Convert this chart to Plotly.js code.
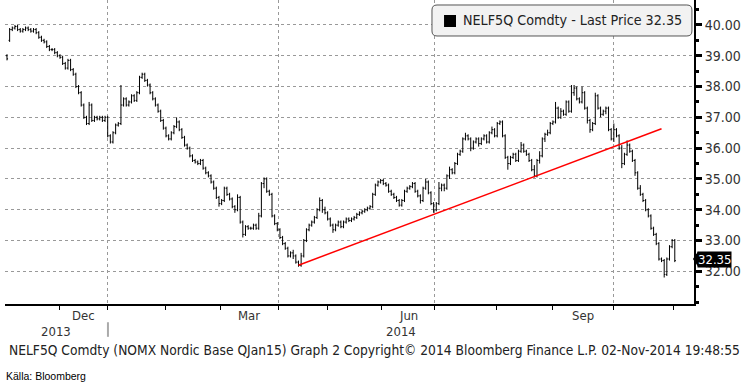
<!DOCTYPE html>
<html>
<head>
<meta charset="utf-8">
<script src="https://cdn.plot.ly/plotly-3.0.1.min.js"></script>
<style>html,body{margin:0;padding:0;background:#fff;}#chart{width:744px;height:384px;}</style>
</head>
<body>
<div id="chart"></div>
<script>
// Daily OHLC of NELF5Q Comdty (trading-day index 0 = early Nov 2013, last = 31 Oct 2014)
const openP = [
39.0,39.5,39.85,39.9,39.95,39.85,39.8,39.85,39.9,39.85,
39.8,39.85,39.75,39.6,39.5,39.45,39.3,39.2,39.2,39.1,
39.0,38.95,38.75,38.6,38.85,38.55,38.4,38.0,37.8,37.4,
37.0,36.8,37.4,36.9,37.0,36.95,37.0,36.9,37.0,36.4,
36.2,36.5,36.75,36.8,37.4,37.6,37.4,37.5,37.7,37.55,
37.8,38.3,38.4,38.2,38.05,37.8,37.6,37.4,37.2,36.9,
36.65,36.4,36.3,36.5,36.7,36.85,36.6,36.35,36.1,36.0,
35.75,35.6,35.55,35.5,35.6,35.35,35.2,35.1,34.9,34.7,
34.4,34.2,34.3,34.7,34.5,34.35,34.1,34.0,34.4,33.6,
33.2,33.45,33.4,33.4,33.5,33.4,33.8,34.85,35.0,34.6,
34.5,33.8,33.55,33.35,33.1,32.9,32.75,32.5,32.6,32.5,
32.3,32.2,32.5,33.0,33.35,33.5,33.6,33.75,34.0,34.3,
34.0,33.9,33.7,33.5,33.35,33.5,33.6,33.45,33.6,33.7,
33.65,33.7,33.75,33.85,33.9,33.95,34.0,34.05,34.1,34.5,
34.8,34.9,34.95,34.85,34.8,34.6,34.5,34.4,34.3,34.15,
34.3,34.6,34.7,34.75,34.85,34.6,34.45,34.3,34.7,34.9,
34.55,34.2,34.0,34.2,34.7,34.8,34.7,35.1,35.3,35.2,
35.5,35.8,35.9,36.3,36.4,36.3,36.0,36.2,36.3,36.15,
36.3,36.4,36.2,36.5,36.6,36.4,36.8,36.85,36.4,35.7,
35.5,35.7,35.8,35.6,35.9,36.1,35.9,35.8,35.6,35.3,
35.1,35.6,35.75,36.3,36.45,36.5,36.8,36.85,37.3,37.0,
37.2,37.1,37.5,37.2,37.8,37.95,37.6,37.5,37.8,37.3,
36.9,36.6,36.8,37.7,37.3,37.1,37.2,37.3,36.6,36.3,
36.6,36.4,36.0,35.5,35.8,36.1,35.9,35.6,35.2,34.7,
34.5,34.3,34.0,33.8,33.4,33.2,32.9,32.4,32.35,31.9,
32.4,32.8,33.0
];
const highP = [
39.05,39.9,39.95,40.0,40.0,39.9,39.9,39.95,39.95,39.9,
39.9,39.9,39.8,39.65,39.55,39.5,39.35,39.25,39.25,39.15,
39.05,39.0,38.8,38.9,38.9,38.6,38.45,38.05,37.85,37.45,
37.05,37.5,37.45,37.05,37.05,37.05,37.05,37.05,37.05,36.45,
36.55,36.8,36.85,38.05,37.65,37.65,37.55,37.75,37.75,37.85,
38.35,38.45,38.45,38.25,38.1,37.85,37.65,37.45,37.25,36.95,
36.7,36.45,36.55,36.75,37.0,36.9,36.65,36.4,36.15,36.05,
35.8,35.65,35.6,35.65,35.65,35.4,35.25,35.15,34.95,34.75,
34.45,34.35,34.75,34.75,34.55,34.4,34.15,34.5,34.45,33.65,
33.5,33.5,33.45,33.55,33.55,33.9,34.9,35.05,35.05,34.65,
34.55,33.85,33.6,33.4,33.15,32.95,32.8,32.65,32.7,32.55,
32.35,32.6,33.05,33.4,33.55,33.65,33.8,34.05,34.4,34.35,
34.1,33.95,33.75,33.55,33.55,33.65,33.65,33.65,33.75,33.75,
33.75,33.8,33.9,33.95,34.0,34.05,34.1,34.15,34.55,34.85,
34.95,35.0,35.0,34.9,34.85,34.65,34.55,34.45,34.35,34.35,
34.65,34.75,34.8,34.9,34.9,34.65,34.5,34.75,35.0,34.95,
34.6,34.25,34.25,34.9,34.85,34.85,35.15,35.4,35.35,35.55,
35.85,35.95,36.35,36.5,36.45,36.35,36.25,36.35,36.35,36.35,
36.45,36.45,36.55,36.7,36.65,36.85,36.9,36.9,36.45,35.75,
35.75,35.85,35.85,35.95,36.2,36.15,35.95,35.85,35.65,35.45,
35.65,35.9,36.35,36.5,36.6,36.85,36.9,37.5,37.35,37.3,
37.25,37.55,37.55,38.05,38.05,38.0,37.65,38.0,37.85,37.35,
36.95,36.85,37.8,37.75,37.35,37.25,37.35,37.35,36.65,36.8,
36.65,36.45,36.1,35.85,36.25,36.15,35.95,35.65,35.25,34.8,
34.55,34.35,34.05,33.85,33.45,33.25,32.95,32.45,32.4,32.45,
32.85,33.05,33.05
];
const lowP = [
38.85,39.45,39.8,39.85,39.8,39.75,39.75,39.8,39.8,39.75,
39.75,39.7,39.55,39.45,39.4,39.25,39.15,39.15,39.05,38.95,
38.9,38.7,38.55,38.55,38.5,38.35,37.95,37.75,37.35,36.95,
36.75,36.75,36.85,36.85,36.9,36.9,36.85,36.85,36.35,36.15,
36.15,36.45,36.7,36.75,37.35,37.35,37.35,37.45,37.5,37.5,
37.75,38.25,38.15,38.0,37.75,37.55,37.35,37.15,36.85,36.6,
36.35,36.25,36.25,36.45,36.65,36.55,36.3,36.05,35.95,35.7,
35.55,35.5,35.45,35.45,35.3,35.15,35.05,34.85,34.65,34.35,
34.1,34.15,34.25,34.45,34.3,34.05,33.9,33.95,33.55,33.1,
33.15,33.35,33.35,33.35,33.35,33.35,33.75,34.7,34.55,34.45,
33.75,33.5,33.3,33.05,32.85,32.7,32.45,32.45,32.4,32.25,
32.15,32.15,32.45,32.95,33.3,33.45,33.55,33.7,33.95,33.9,
33.85,33.65,33.45,33.25,33.3,33.45,33.4,33.4,33.55,33.6,
33.6,33.65,33.7,33.8,33.85,33.9,33.95,34.0,34.05,34.45,
34.75,34.85,34.8,34.75,34.55,34.45,34.35,34.25,34.1,34.1,
34.25,34.55,34.65,34.7,34.55,34.4,34.2,34.25,34.65,34.5,
34.15,33.9,33.95,34.15,34.6,34.6,34.65,35.0,35.15,35.15,
35.45,35.75,35.85,36.25,36.25,35.9,35.95,36.15,36.05,36.1,
36.25,36.15,36.15,36.45,36.35,36.35,36.75,36.35,35.65,35.3,
35.45,35.65,35.55,35.55,35.85,35.85,35.75,35.55,35.25,35.05,
35.05,35.5,35.7,36.2,36.4,36.45,36.75,36.8,36.95,36.95,
37.05,37.05,37.15,37.15,37.7,37.55,37.45,37.45,37.25,36.8,
36.5,36.55,36.75,37.25,37.0,37.05,37.1,36.55,36.25,36.2,
36.35,35.95,35.35,35.45,35.75,35.85,35.55,35.1,34.65,34.45,
34.25,33.95,33.75,33.35,33.15,32.85,32.35,32.3,31.8,31.85,
32.35,32.75,32.3
];
const closeP = [
38.9,39.85,39.9,39.95,39.85,39.8,39.85,39.9,39.85,39.8,
39.85,39.75,39.6,39.5,39.45,39.3,39.2,39.2,39.1,39.0,
38.95,38.75,38.6,38.85,38.55,38.4,38.0,37.8,37.4,37.0,
36.8,37.4,36.9,37.0,36.95,37.0,36.9,37.0,36.4,36.2,
36.5,36.75,36.8,37.4,37.6,37.4,37.5,37.7,37.55,37.8,
38.3,38.4,38.2,38.05,37.8,37.6,37.4,37.2,36.9,36.65,
36.4,36.3,36.5,36.7,36.85,36.6,36.35,36.1,36.0,35.75,
35.6,35.55,35.5,35.6,35.35,35.2,35.1,34.9,34.7,34.4,
34.2,34.3,34.7,34.5,34.35,34.1,34.0,34.4,33.6,33.2,
33.45,33.4,33.4,33.5,33.4,33.8,34.85,35.0,34.6,34.5,
33.8,33.55,33.35,33.1,32.9,32.75,32.5,32.6,32.5,32.3,
32.2,32.5,33.0,33.35,33.5,33.6,33.75,34.0,34.3,34.0,
33.9,33.7,33.5,33.35,33.5,33.6,33.45,33.6,33.7,33.65,
33.7,33.75,33.85,33.9,33.95,34.0,34.05,34.1,34.5,34.8,
34.9,34.95,34.85,34.8,34.6,34.5,34.4,34.3,34.15,34.3,
34.6,34.7,34.75,34.85,34.6,34.45,34.3,34.7,34.9,34.55,
34.2,34.0,34.2,34.7,34.8,34.7,35.1,35.3,35.2,35.5,
35.8,35.9,36.3,36.4,36.3,36.0,36.2,36.3,36.15,36.3,
36.4,36.2,36.5,36.6,36.4,36.8,36.85,36.4,35.7,35.5,
35.7,35.8,35.6,35.9,36.1,35.9,35.8,35.6,35.3,35.1,
35.6,35.75,36.3,36.45,36.5,36.8,36.85,37.3,37.0,37.2,
37.1,37.5,37.2,37.8,37.95,37.6,37.5,37.8,37.3,36.9,
36.6,36.8,37.7,37.3,37.1,37.2,37.3,36.6,36.3,36.6,
36.4,36.0,35.5,35.8,36.1,35.9,35.6,35.2,34.7,34.5,
34.3,34.0,33.8,33.4,33.2,32.9,32.4,32.35,31.9,32.4,
32.8,33.0,32.35
];

// Trend line (trading-day index, price)
const trendX = [110, 247];
const trendY = [32.2, 36.63];

// Calendar: trading-day index of each month start
const monthNames  = ["Dec","Jan","Feb","Mar","Apr","May","Jun","Jul","Aug","Sep","Oct","Nov"];
const monthStarts = [20, 38.1, 60, 80.4, 102.3, 121.1, 141.5, 161.5, 184.9, 206, 228.7, 251.7];
const labelledMonths = ["Dec","Mar","Jun","Sep"];
const quarterStarts = [38.1, 102.3, 161.5, 228.7];
const yearLabels = ["2013","2014"];
const yTicks = [32,33,34,35,36,37,38,39,40];

const xRange = [-0.75, 259.25];
const yRange = [30.94, 40.81];

const idx = closeP.map((_, i) => i);
const lastPrice = closeP[closeP.length - 1];

const FONT = "Tahoma, 'DejaVu Sans Condensed', 'DejaVu Sans', sans-serif";

const traces = [
  {
    type: 'ohlc', x: idx, open: openP, high: highP, low: lowP, close: closeP,
    increasing: {line: {color: '#000', width: 1}},
    decreasing: {line: {color: '#000', width: 1}},
    tickwidth: 0.4, hoverinfo: 'skip', showlegend: false
  },
  {
    type: 'scatter', mode: 'lines', x: trendX, y: trendY,
    line: {color: '#ff0000', width: 1.5}, hoverinfo: 'skip', showlegend: false
  }
];

const annotations = [];
for (let k = 0; k < monthNames.length - 1; k++) {
  if (labelledMonths.includes(monthNames[k])) {
    annotations.push({
      xref: 'x', yref: 'paper', x: (monthStarts[k] + monthStarts[k+1]) / 2, y: -0.037,
      text: monthNames[k], showarrow: false, xanchor: 'center', yanchor: 'middle',
      font: {family: FONT, size: 13, color: '#333'}
    });
  }
}
const yearSpans = [[xRange[0], monthStarts[1]], [monthStarts[1], xRange[1]]];
yearLabels.forEach((t, k) => {
  annotations.push({
    xref: 'x', yref: 'paper', x: (yearSpans[k][0] + yearSpans[k][1]) / 2, y: -0.092,
    text: t, showarrow: false, xanchor: 'center', yanchor: 'middle',
    font: {family: FONT, size: 13, color: '#333'}
  });
});
annotations.push({
  xref: 'paper', yref: 'y', x: 1.005, y: lastPrice + 0.05, text: lastPrice.toFixed(2),
  showarrow: false, xanchor: 'left', yanchor: 'middle', bgcolor: '#000',
  font: {family: FONT, size: 13, color: '#fff'}, borderpad: 0
});
annotations.push({
  xref: 'paper', yref: 'paper', x: 0.6618, y: 0.9326, xanchor: 'left', yanchor: 'middle',
  text: 'NELF5Q Comdty - Last Price ' + lastPrice.toFixed(2), showarrow: false,
  font: {family: FONT, size: 14.2, color: '#222'}
});
annotations.push({
  xref: 'paper', yref: 'paper', x: 0.0029, y: -0.151, xanchor: 'left', yanchor: 'middle',
  text: 'NELF5Q Comdty (NOMX Nordic Base QJan15) Graph 2 Copyright© 2014 Bloomberg Finance L.P. 02-Nov-2014 19:48:55',
  showarrow: false, font: {family: FONT, size: 13.7, color: '#222'}
});
annotations.push({
  xref: 'paper', yref: 'paper', x: -0.0015, y: -0.237, xanchor: 'left', yanchor: 'middle',
  text: 'Källa: Bloomberg', showarrow: false,
  font: {family: "'Liberation Sans Narrow', 'Liberation Sans', Arial, sans-serif", size: 10.5, color: '#000'}
});

// rounded legend box (paper coords)
const bx0 = 0.6197, bx1 = 0.997, by0 = 0.8816, by1 = 0.9836, rx = 0.0073, ry = 0.0164;
const boxPath = 'M ' + (bx0+rx) + ' ' + by1 + ' L ' + (bx1-rx) + ' ' + by1 +
  ' Q ' + bx1 + ' ' + by1 + ' ' + bx1 + ' ' + (by1-ry) + ' L ' + bx1 + ' ' + (by0+ry) +
  ' Q ' + bx1 + ' ' + by0 + ' ' + (bx1-rx) + ' ' + by0 + ' L ' + (bx0+rx) + ' ' + by0 +
  ' Q ' + bx0 + ' ' + by0 + ' ' + bx0 + ' ' + (by0+ry) + ' L ' + bx0 + ' ' + (by1-ry) +
  ' Q ' + bx0 + ' ' + by1 + ' ' + (bx0+rx) + ' ' + by1 + ' Z';

const shapes = [
  {type: 'path', xref: 'paper', yref: 'paper', path: boxPath,
   fillcolor: '#f2f2f2', line: {color: '#555', width: 1}, layer: 'above'},
  {type: 'rect', xref: 'paper', yref: 'paper', x0: 0.6372, x1: 0.6546, y0: 0.9112, y1: 0.9507,
   fillcolor: '#000', line: {width: 0}, layer: 'above'},
  {type: 'line', xref: 'x', yref: 'paper', x0: monthStarts[1], x1: monthStarts[1], y0: -0.06, y1: -0.108,
   line: {color: '#aaa', width: 2}},
  {type: 'path', xref: 'paper', yref: 'y',
   path: 'M 0.9985 ' + (lastPrice + 0.05) + ' L 1.006 ' + (lastPrice + 0.3) + ' L 1.006 ' + (lastPrice - 0.2) + ' Z',
   fillcolor: '#000', line: {width: 0}}
];

const layout = {
  width: 744, height: 384,
  margin: {l: 5, r: 50, t: 0, b: 80, pad: 0},
  paper_bgcolor: '#fff', plot_bgcolor: '#fff',
  showlegend: false,
  xaxis: {
    range: xRange, rangeslider: {visible: false}, fixedrange: true,
    tickmode: 'array', tickvals: quarterStarts, showticklabels: false,
    ticks: 'outside', ticklen: 4, tickcolor: '#000', tickwidth: 1,
    showgrid: true, gridcolor: '#999', griddash: 'dot', gridwidth: 1,
    minor: {tickvals: monthStarts, ticks: 'outside', ticklen: 4, tickcolor: '#000', showgrid: false},
    showline: true, linecolor: '#000', linewidth: 2, zeroline: false
  },
  yaxis: {
    range: yRange, side: 'right', fixedrange: true,
    tickmode: 'array', tickvals: yTicks, ticktext: yTicks.map(v => v.toFixed(2)),
    ticks: 'outside', ticklen: 6, tickwidth: 3, tickcolor: '#000',
    minor: {dtick: 0.5, ticks: 'outside', ticklen: 3, tickcolor: '#000', showgrid: false},
    showgrid: true, gridcolor: '#999', griddash: 'dot', gridwidth: 1,
    showline: true, linecolor: '#000', linewidth: 2, zeroline: false,
    tickfont: {family: FONT, size: 14, color: '#333'}
  },
  annotations: annotations,
  shapes: shapes
};

Plotly.newPlot('chart', traces, layout, {displayModeBar: false, staticPlot: true});
</script>
</body>
</html>
